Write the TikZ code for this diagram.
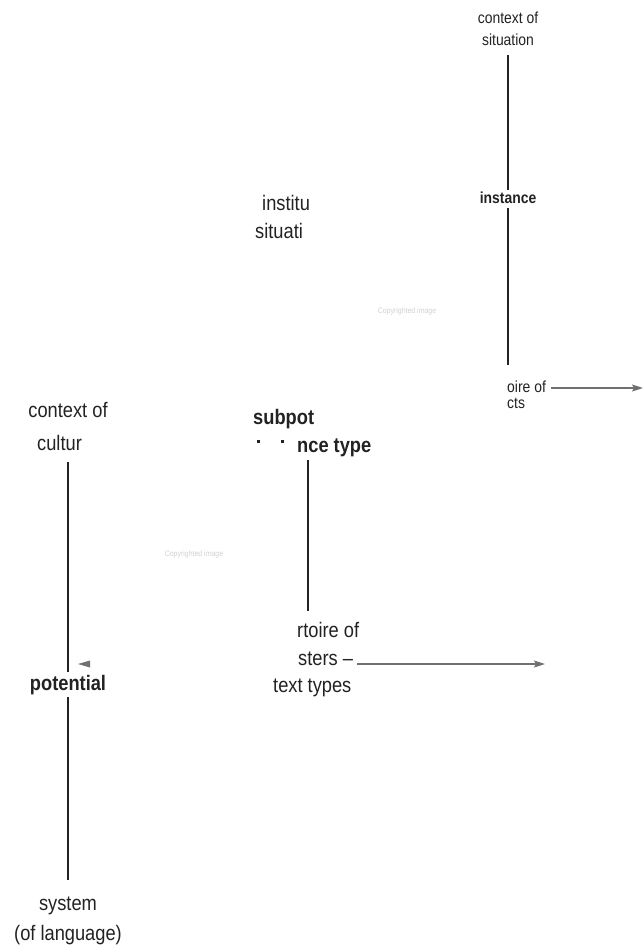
\documentclass[tikz,border=0pt]{standalone}
\usepackage{fontspec}
\setmainfont{Liberation Sans}[FakeStretch=0.87]
\usetikzlibrary{arrows.meta}
\definecolor{txt}{HTML}{222222}
\definecolor{lin}{HTML}{222222}
\definecolor{gry}{HTML}{707070}
\definecolor{faint}{HTML}{D0D0D0}
\begin{document}
\begin{tikzpicture}[x=1pt,y=-1pt,
  lbl/.style={inner sep=0pt, text=txt, font=\fontsize{21}{25}\selectfont},
  lblb/.style={inner sep=0pt, text=txt, font=\fontsize{21}{25}\selectfont\bfseries},
  sml/.style={inner sep=0pt, text=txt, font=\fontsize{16}{19}\selectfont},
  smlb/.style={inner sep=0pt, text=txt, font=\fontsize{16}{19}\selectfont\bfseries},
  note/.style={inner sep=0pt, text=faint, font=\fontsize{8}{9}\selectfont},
  link/.style={draw=lin, line width=1.7pt},
  arr/.style={draw=gry, line width=1.1pt, -{Stealth[length=11pt,width=7pt,inset=2pt]}}
]
\useasboundingbox (0,0) rectangle (643,951);
% right column
\node[sml, anchor=base] (ctxs) at (508,23) {context of};
\node[sml, anchor=base] (sit) at (508,45) {situation};
\node[smlb, anchor=base] (inst) at (508,203) {instance};
\node[sml, anchor=base west] (rep3a) at (507,392) {oire of};
\node[sml, anchor=base west] (rep3b) at (507,408) {cts};
\coordinate (endR) at (643,388);
\draw[link] (sit.south |- 0,55) -- (inst.north |- 0,190);
\draw[link] (inst.south |- 0,208) -- (inst.south |- 0,365);
\draw[arr] ([xshift=5pt,yshift=4pt]rep3a.base east) -- (endR);
% institution / situation
\node[lbl, anchor=base west] (insti) at (262,210) {institu};
\node[lbl, anchor=base west] (situ) at (255,238) {situati};
\node[note] (cp1) at (407,311) {Copyrighted image};
% left column
\node[lbl, anchor=base] (ctxc) at (68,417) {context of};
\node[lbl, anchor=base west] (cul) at (37,450) {cultur};
\node[lblb, anchor=base] (pot) at (68,690) {potential};
\node[lbl, anchor=base] (sys) at (68,910) {system};
\node[lbl, anchor=base] (lang) at (68,940) {(of language)};
\draw[link] (ctxc.south |- 0,462) -- (pot.north |- 0,672);
\draw[link] (pot.south |- 0,697) -- (sys.north |- 0,880);
\fill[gry] (78,664) -- (90,660.5) -- (90,667.5) -- cycle;
\node[note] (cp2) at (194,554) {Copyrighted image};
% middle column
\node[lblb, anchor=base west] (sub1) at (253,424) {subpot};
\node[lblb, anchor=base west] (sub2) at (297,452) {nce type};
\fill[txt] (257,440) rectangle (259.5,442.5);
\fill[txt] (281,440) rectangle (283.5,442.5);
\node[lbl, anchor=base west] (rep1) at (297,637) {rtoire of};
\node[lbl, anchor=base west] (rep2) at (298,665) {sters –};
\node[lbl, anchor=base west] (tt) at (273,692) {text types};
\coordinate (m1) at (308,460);
\coordinate (m2) at (308,611);
\coordinate (endM) at (545,664);
\draw[link] (m1) -- (m2);
\draw[arr] ([xshift=4pt,yshift=1pt]rep2.base east) -- (endM);
\end{tikzpicture}
\end{document}
